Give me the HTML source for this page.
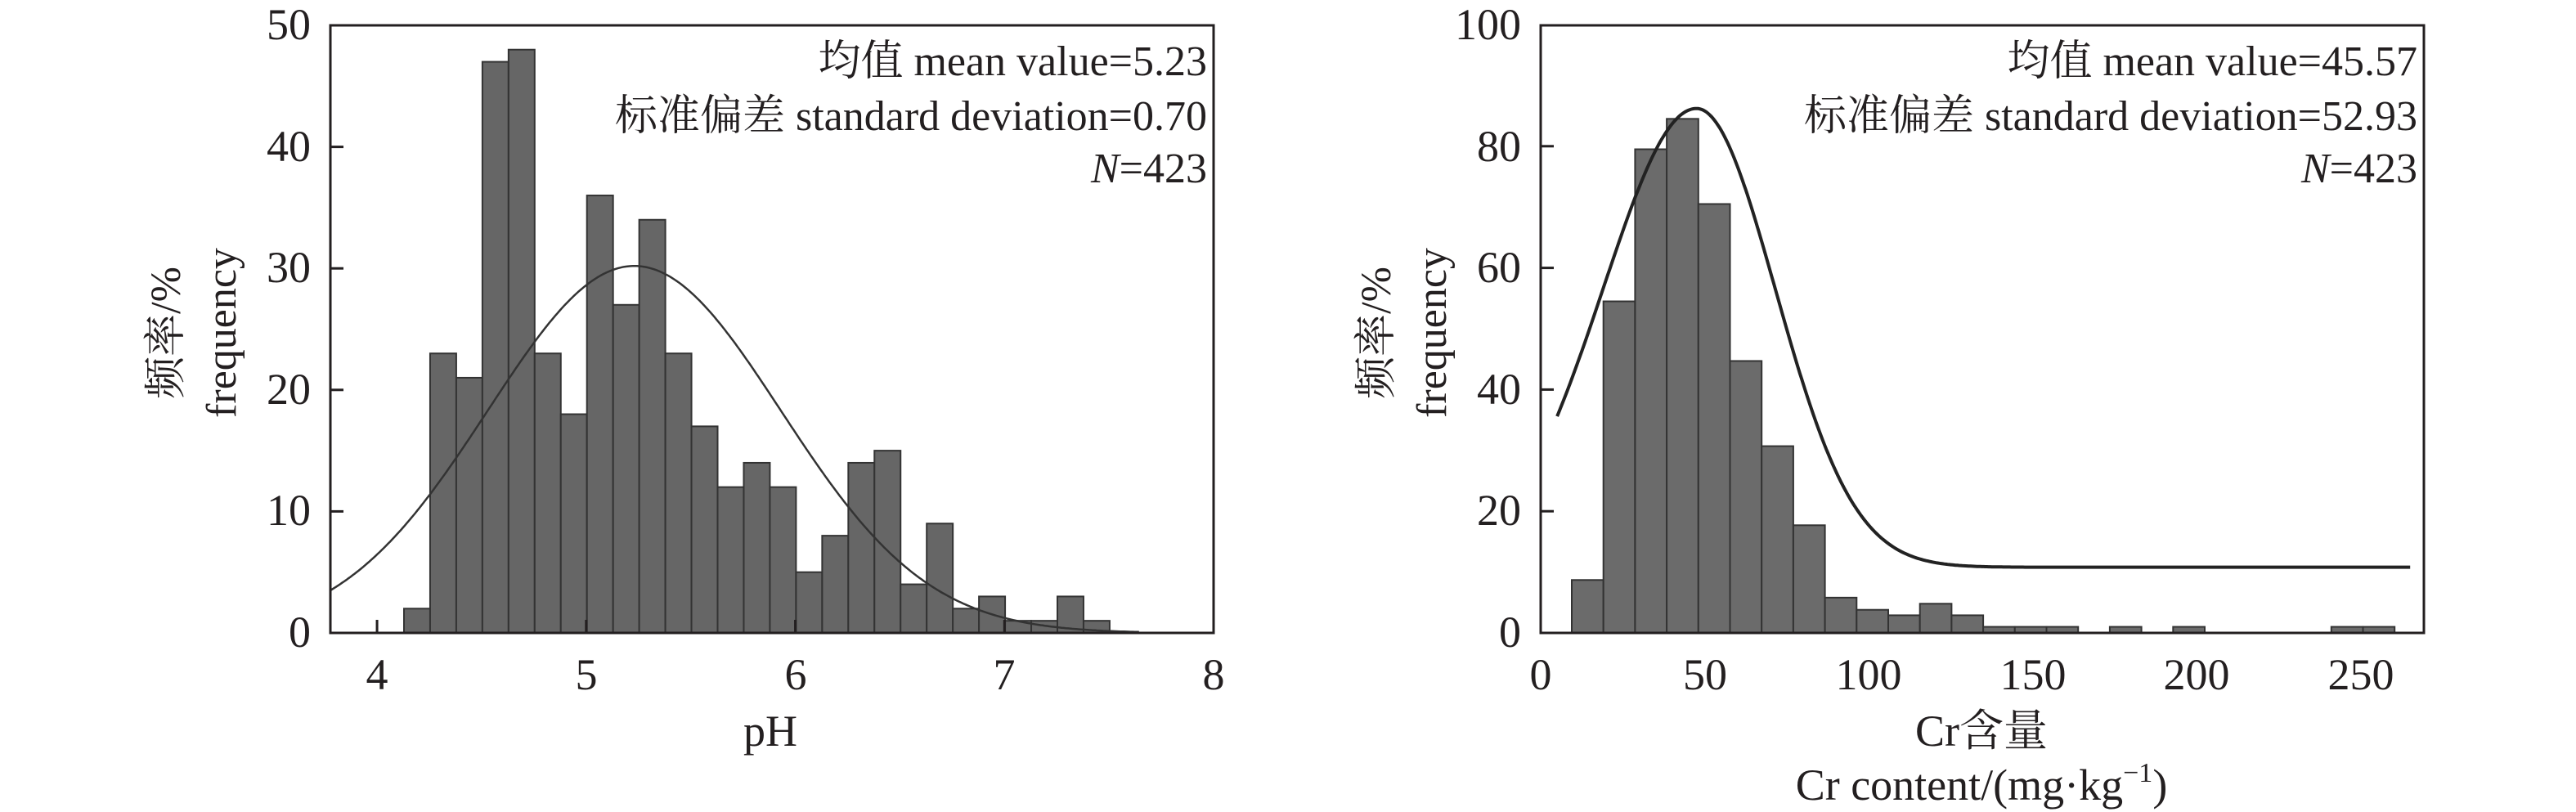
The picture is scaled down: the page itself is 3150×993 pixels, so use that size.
<!DOCTYPE html>
<html><head><meta charset="utf-8"><style>
html,body{margin:0;padding:0;background:#fff}
svg{display:block}
text{font-family:"Liberation Serif","Noto Serif CJK SC","Noto Sans CJK SC",serif;fill:#231f20}
</style></head><body>
<svg id="s" width="3150" height="993" viewBox="0 0 3150 993" xmlns="http://www.w3.org/2000/svg">
<g id="L"></g><g id="R"></g>
<!-- left texts -->
<g font-size="54" text-anchor="end">
<text x="380" y="48">50</text><text x="380" y="197">40</text><text x="380" y="345">30</text>
<text x="380" y="494">20</text><text x="380" y="642">10</text><text x="380" y="791">0</text>
</g>
<g font-size="54" text-anchor="middle">
<text x="461" y="843">4</text><text x="717" y="843">5</text><text x="973" y="843">6</text>
<text x="1228" y="843">7</text><text x="1484" y="843">8</text>
<text x="942" y="912">pH</text>
</g>
<g font-size="52" text-anchor="end">
<text x="1476" y="92">均值 mean value=5.23</text>
<text x="1476" y="159">标准偏差 standard deviation=0.70</text>
<text x="1476" y="223"><tspan font-style="italic">N</tspan>=423</text>
</g>
<g font-size="52" text-anchor="middle">
<text transform="translate(220,407) rotate(-90)">频率/%</text>
<text transform="translate(288,407) rotate(-90)">frequency</text>
</g>
<!-- right texts -->
<g font-size="54" text-anchor="end">
<text x="1860" y="48">100</text><text x="1860" y="197">80</text><text x="1860" y="345">60</text>
<text x="1860" y="494">40</text><text x="1860" y="642">20</text><text x="1860" y="791">0</text>
</g>
<g font-size="54" text-anchor="middle">
<text x="1884" y="843">0</text><text x="2085" y="843">50</text><text x="2285" y="843">100</text>
<text x="2486" y="843">150</text><text x="2686" y="843">200</text><text x="2887" y="843">250</text>
<text x="2423" y="912">Cr含量</text>
<text x="2423" y="978">Cr content/(mg·kg<tspan font-size="34" dy="-22">−1</tspan><tspan dy="22">)</tspan></text>
</g>
<g font-size="52" text-anchor="end">
<text x="2956" y="92">均值 mean value=45.57</text>
<text x="2956" y="159">标准偏差 standard deviation=52.93</text>
<text x="2956" y="223"><tspan font-style="italic">N</tspan>=423</text>
</g>
<g font-size="52" text-anchor="middle">
<text transform="translate(1700,407) rotate(-90)">频率/%</text>
<text transform="translate(1768,407) rotate(-90)">frequency</text>
</g>
</svg>
<script>
var NS="http://www.w3.org/2000/svg";
function el(p,t,a){var e=document.createElementNS(NS,t);for(var k in a)e.setAttribute(k,a[k]);p.appendChild(e);return e;}
// Left
var L=document.getElementById("L");
var lx=function(v){return 403+(v-3.773)*255.75}, ly=function(v){return 774-v*14.86};
var hl=[2,23,21,47,48,23,18,36,27,34,23,17,12,14,12,5,8,14,15,4,9,2,3,1,1,3,1];
for(var i=0;i<hl.length;i++){var x0=494+i*31.96;el(L,"rect",{x:x0,y:ly(hl[i]),width:31.96,height:774-ly(hl[i]),fill:"#666","stroke":"#333","stroke-width":2});}
var d="";for(var v=3.773;v<=7.65;v+=0.01){var y=30.2*Math.exp(-Math.pow(v-5.23,2)/(2*0.49));d+=(d?"L":"M")+lx(v).toFixed(1)+","+ly(y).toFixed(1);}
el(L,"path",{d:d,fill:"none",stroke:"#333","stroke-width":2.5});
el(L,"rect",{x:404,y:31,width:1080,height:743,fill:"none",stroke:"#231f20","stroke-width":3});
[10,20,30,40].forEach(function(t){el(L,"line",{x1:404,x2:420,y1:ly(t),y2:ly(t),stroke:"#231f20","stroke-width":3});});
[4,5,6,7].forEach(function(t){el(L,"line",{x1:lx(t),x2:lx(t),y1:774,y2:758,stroke:"#231f20","stroke-width":3});});
// Right
var R=document.getElementById("R");
var rx=function(v){return 1884+v*4.012}, ry=function(v){return 774-v*7.44};
var hr=[8.7,54.5,79.5,84.5,70.5,44.7,30.7,17.7,5.8,3.8,2.9,4.8,2.9,1,1,1,0,1,0,1,0,0,0,0,1,1];
for(var i=0;i<hr.length;i++){if(!hr[i])continue;var x0=1922+i*38.7;el(R,"rect",{x:x0,y:ry(hr[i]),width:38.7,height:774-ry(hr[i]),fill:"#6b6b6b",stroke:"#333","stroke-width":2});}
d="";for(var v=5;v<=265;v+=0.5){var s=v<47.5?28.5:24;var y=10.8+75.4*Math.exp(-Math.pow(v-47.5,2)/(2*s*s));d+=(d?"L":"M")+rx(v).toFixed(1)+","+ry(y).toFixed(1);}
el(R,"path",{d:d,fill:"none",stroke:"#222","stroke-width":4});
el(R,"rect",{x:1884,y:31,width:1080,height:743,fill:"none",stroke:"#231f20","stroke-width":3});
[20,40,60,80].forEach(function(t){el(R,"line",{x1:1884,x2:1900,y1:ry(t),y2:ry(t),stroke:"#231f20","stroke-width":3});});
</script>
</body></html>
